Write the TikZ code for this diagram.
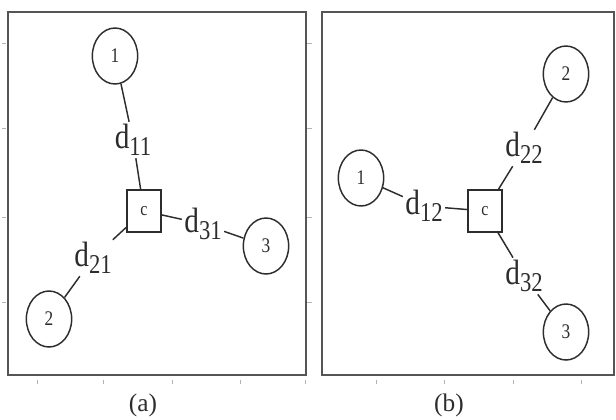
\documentclass[tikz,border=0pt]{standalone}
\usepackage{fontspec}
\setmainfont{Liberation Serif}
\usepackage{graphicx}
\usetikzlibrary{shapes.geometric}

\definecolor{inkgray}{RGB}{45,45,45}
\definecolor{framegray}{RGB}{85,85,85}
\newcommand{\dlab}[1]{\scalebox{1}[1.2]{\fontsize{22}{22}\selectfont d\raisebox{-0.2em}{\fontsize{17}{17}\selectfont #1}}}
\newcommand{\smalltxt}[1]{\scalebox{1}[1.2]{#1}}

\tikzset{every picture/.style={line width=0.75pt}}
\tikzset{
  clus/.style={draw=inkgray, line width=1.1pt, ellipse, minimum width=34pt, minimum height=42pt, inner sep=0pt, text=inkgray, font=\fontsize{13}{13}\selectfont},
  cent/.style={draw=inkgray, line width=1.1pt, rectangle, minimum width=25.5pt, minimum height=31.5pt, inner sep=0pt, text=inkgray, font=\fontsize{12}{12}\selectfont},
  dist/.style={inner sep=1.5pt, text=inkgray},
  link/.style={draw=inkgray, line width=1.1pt},
  panel/.style={draw=framegray, line width=1.8pt},
  tick/.style={draw=black!30, line width=0.4pt}
}

\begin{document}
\begin{tikzpicture}[x=0.75pt,y=0.75pt,yscale=-1,xscale=1]
\useasboundingbox (0,0) rectangle (616,419);

%Shape: Rectangle [panel a] 
\draw [panel] (8,12) rectangle (306,375) ;
%Shape: Rectangle [panel b] 
\draw [panel] (322,12) rectangle (614,375) ;
%Ticks
\foreach \tx in {37,103,172,240,305,376,444,513,581} \draw [tick] (\tx,380) -- (\tx,384) ;
\foreach \ty in {43,128,217,302} {\draw [tick] (2,\ty) -- (6,\ty) ; \draw [tick] (307,\ty) -- (312,\ty) ;}

% (a) : nodes
\node [clus] (a1) at (115,56) {\smalltxt{1}};
\node [clus] (a2) at (49,319) {\smalltxt{2}};
\node [clus] (a3) at (266,246) {\smalltxt{3}};
\node [cent] (ac) at (144,211) {\smalltxt{c}};
% Text Node
\node [dist] (d11) at (133,140) {\dlab{11}};
\node [dist] (d21) at (93,258) {\dlab{21}};
\node [dist] (d31) at (203,224) {\dlab{31}};

%Straight Lines
\draw [link] (a1) -- (d11) ;
\draw [link] (d11) -- (ac) ;
\draw [link] (ac) -- (d21) ;
\draw [link] (d21) -- (a2) ;
\draw [link] (ac) -- (d31) ;
\draw [link] (d31) -- (a3) ;

% (b) : nodes
\node [clus] (b1) at (361,178) {\smalltxt{1}};
\node [clus] (b2) at (566,74) {\smalltxt{2}};
\node [clus] (b3) at (566,332) {\smalltxt{3}};
\node [cent] (bc) at (485,211) {\smalltxt{c}};
% Text Node
\node [dist] (d12) at (424,206) {\dlab{12}};
\node [dist] (d22) at (524,148) {\dlab{22}};
\node [dist] (d32) at (524,276) {\dlab{32}};

%Straight Lines
\draw [link] (b1) -- (d12) ;
\draw [link] (d12) -- (bc) ;
\draw [link] (bc) -- (d22) ;
\draw [link] (d22) -- (b2) ;
\draw [link] (bc) -- (d32) ;
\draw [link] (d32) -- (b3) ;

% Captions
\node [text=inkgray, font=\fontsize{19}{19}\selectfont] (capa) at (143,405) {(a)};
\node [text=inkgray, font=\fontsize{19}{19}\selectfont] (capb) at (449,405) {(b)};

\end{tikzpicture}
\end{document}
